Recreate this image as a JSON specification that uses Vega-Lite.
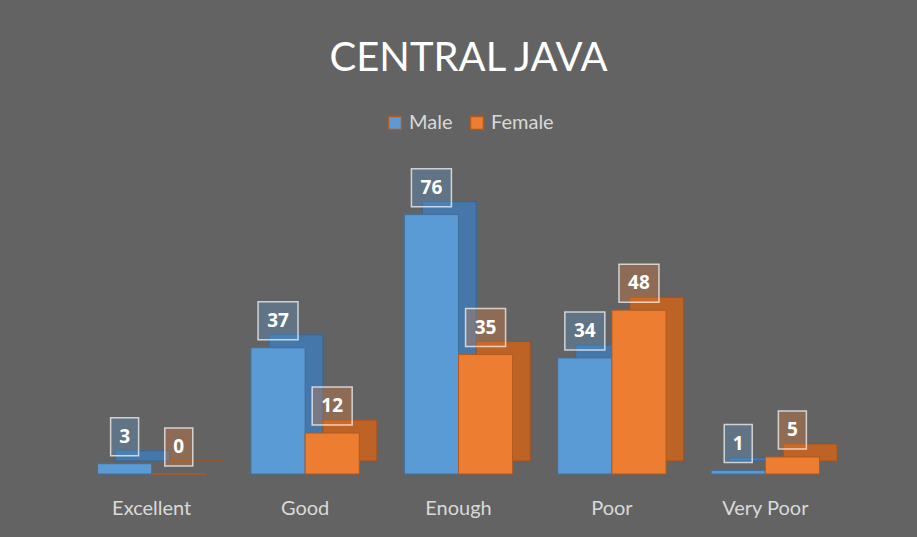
{
  "$schema": "https://vega.github.io/schema/vega-lite/v6.json",
  "width": 767,
  "height": 273,
  "autosize": {"type": "none"},
  "padding": {"left": 75, "top": 201, "right": 75, "bottom": 63},
  "background": "#636363",
  "config": {"view": {"stroke": null}, "font": "Lato"},
  "title": {"text": "CENTRAL JAVA", "fontSize": 40, "color": "#ffffff", "font": "Lato", "fontWeight": "normal", "anchor": "middle", "offset": 34, "dx": 10},
  "data": {"values": [
    {"rating": "Excellent", "sex": "Male", "count": 3},
    {"rating": "Excellent", "sex": "Female", "count": 0},
    {"rating": "Good", "sex": "Male", "count": 37},
    {"rating": "Good", "sex": "Female", "count": 12},
    {"rating": "Enough", "sex": "Male", "count": 76},
    {"rating": "Enough", "sex": "Female", "count": 35},
    {"rating": "Poor", "sex": "Male", "count": 34},
    {"rating": "Poor", "sex": "Female", "count": 48},
    {"rating": "Very Poor", "sex": "Male", "count": 1},
    {"rating": "Very Poor", "sex": "Female", "count": 5}
  ]},
  "encoding": {
    "x": {"field": "rating", "type": "nominal", "sort": ["Excellent", "Good", "Enough", "Poor", "Very Poor"],
      "scale": {"paddingInner": 0.294, "paddingOuter": 0.147},
      "axis": {"title": null, "labelAngle": 0, "domain": false, "ticks": false, "labelPadding": 24, "labelFontSize": 20, "labelColor": "#d9d9d9", "labelFont": "Lato"}},
    "y": {"field": "count", "type": "quantitative", "scale": {"domain": [0, 80]}, "axis": null}
  },
  "resolve": {"scale": {"xOffset": "independent"}},
  "layer": [
    {
      "data": {"values": [{}]},
      "mark": {"type": "rule", "strokeWidth": 18, "yOffset": -8, "color": "#6a6a6a"},
      "encoding": {"y": {"datum": 0}, "x": null}
    },
    {
      "mark": {"type": "bar", "yOffset": -13, "strokeWidth": 1},
      "encoding": {
        "xOffset": {"field": "sex", "type": "nominal", "sort": ["Male", "Female"], "scale": {"paddingInner": 0, "paddingOuter": 0, "range": [18, 126]}},
        "fill": {"condition": {"test": "datum.sex === 'Male'", "value": "#4577aa"}, "value": "#bd6326"},
        "stroke": {"condition": {"test": "datum.sex === 'Male'", "value": "#3a6692"}, "value": "#a0521e"}
      }
    },
    {
      "mark": {"type": "bar", "strokeWidth": 1},
      "encoding": {
        "xOffset": {"field": "sex", "type": "nominal", "sort": ["Male", "Female"], "scale": {"paddingInner": 0, "paddingOuter": 0}},
        "color": {"field": "sex", "type": "nominal", "sort": ["Male", "Female"],
          "scale": {"range": ["#5b9bd5", "#ed7d31"]},
          "legend": {"orient": "none", "legendX": 310, "legendY": -88, "direction": "horizontal", "title": null,
            "labelFontSize": 20, "labelColor": "#d9d9d9", "labelFont": "Lato", "symbolType": "square", "symbolSize": 170,
            "columnPadding": 14, "labelOffset": 4}},
        "stroke": {"condition": {"test": "datum.sex === 'Male'", "value": "#41719c"}, "value": "#ae5a21"}
      }
    },
    {
      "mark": {"type": "point", "filled": true, "yOffset": -27, "strokeWidth": 1.5},
      "encoding": {
        "xOffset": {"field": "sex", "type": "nominal", "sort": ["Male", "Female"], "scale": {"type": "band", "paddingInner": 0, "paddingOuter": 0}},
        "shape": {"condition": {"test": "datum.count >= 10", "value": "M-1,-0.95H1V0.95H-1Z"}, "value": "M-0.7,-0.95H0.7V0.95H-0.7Z"},
        "size": {"value": 1600},
        "fill": {"condition": {"test": "datum.sex === 'Male'", "value": "#5b9bd5"}, "value": "#ed7d31"},
        "fillOpacity": {"value": 0.3},
        "stroke": {"value": "#ffffff"},
        "strokeOpacity": {"value": 0.7},
        "opacity": {"value": 1}
      }
    },
    {
      "mark": {"type": "text", "yOffset": -27, "fontSize": 19, "fontWeight": "bold", "color": "#ffffff", "baseline": "middle", "align": "center", "font": "Open Sans"},
      "encoding": {
        "xOffset": {"field": "sex", "type": "nominal", "sort": ["Male", "Female"], "scale": {"type": "band", "paddingInner": 0, "paddingOuter": 0}},
        "text": {"field": "count", "type": "quantitative"}
      }
    }
  ]
}
